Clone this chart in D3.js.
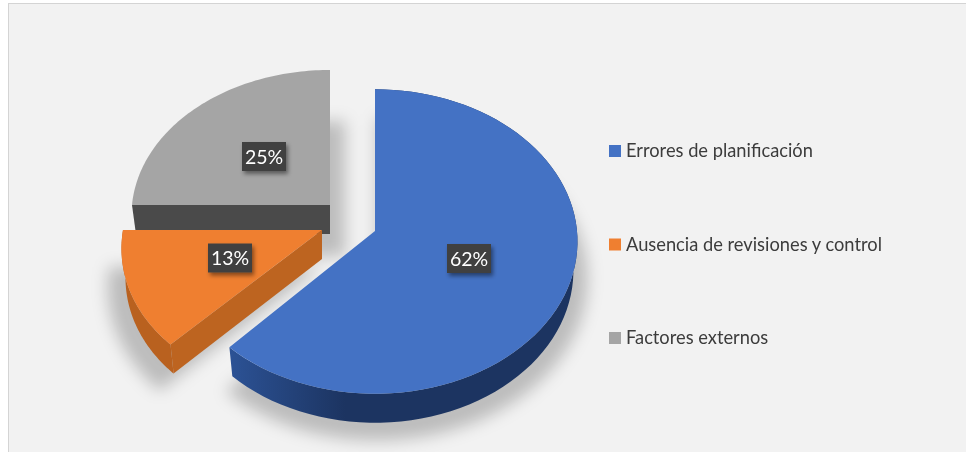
<!DOCTYPE html>
<html>
<head>
<meta charset="utf-8">
<script src="https://cdn.jsdelivr.net/npm/d3@7"></script>
<style>
  html, body { margin: 0; padding: 0; background: #fff; }
  svg { display: block; }
  text { font-family: Lato, "Open Sans", sans-serif; }
</style>
</head>
<body>
<svg id="chart" width="966" height="452"></svg>
<script>
const categories = ["Errores de planificación", "Ausencia de revisiones y control", "Factores externos"];
const shares = [62, 13, 25];
const topColors = ["#4472c4", "#ef7f30", "#a5a5a5"];
const sideColors = ["#1c3461", "#b9611f", "#4a4a4a"];

const svg = d3.select("#chart");
const W = 966, H = 452;
const defs = svg.append("defs");

defs.append("filter").attr("id", "soft").attr("x", "-20%").attr("y", "-20%").attr("width", "140%").attr("height", "140%")
  .append("feGaussianBlur").attr("stdDeviation", 8);
defs.append("filter").attr("id", "labelShadow").attr("x", "-30%").attr("y", "-30%").attr("width", "170%").attr("height", "170%")
  .append("feDropShadow").attr("dx", 2).attr("dy", 3).attr("stdDeviation", 2).attr("flood-color", "#000").attr("flood-opacity", 0.45);

const sideGrad = defs.append("linearGradient").attr("id", "blueSide")
  .attr("gradientUnits", "userSpaceOnUse").attr("x1", 230).attr("x2", 345).attr("y1", 0).attr("y2", 0);
sideGrad.append("stop").attr("offset", 0).attr("stop-color", "#2c5295");
sideGrad.append("stop").attr("offset", 1).attr("stop-color", "#1c3461");

// chart panel
svg.append("rect").attr("x", 8.5).attr("y", 3.5).attr("width", W).attr("height", H)
  .attr("fill", "#f2f2f2").attr("stroke", "#d4d4d4");

const DEPTH = 29;
// each slice has its own pull-out position, radius, tilt and lean on the chart floor
const anchors = [
  { x: 375, y: 231, r: 202, tilt: 0.75, lean: 0 },
  { x: 322, y: 230, r: 199, tilt: 0.75, lean: -11 },
  { x: 330, y: 205, r: 198, tilt: 0.729, lean: 0 }
];

const pie = d3.pie().sort(null)(shares);
const perspective = 0.069;

// projects an angle (clockwise from north) on a tilted, slightly foreshortened disc
function project(a, angle, drop) {
  const u = Math.sin(angle), v = -Math.cos(angle);
  const w = 1 / (1 - perspective * v);
  return [
    a.x + (u * a.r * w + a.lean * Math.max(v, 0)) * (drop ? 0.98 : 1),
    a.y + v * a.r * a.tilt * w + (drop ? DEPTH : 0)
  ];
}
const arcPoints = (a, s, drop) => d3.range(0, 81).map(i => {
  const t = s.startAngle + (s.endAngle - s.startAngle) * i / 80;
  return project(a, t, drop);
});
const closed = pts => d3.line()(pts) + "Z";

const slices = pie.map((s, i) => ({ s, i, a: anchors[i] }));
const drawOrder = [2, 1, 0];

// soft floor shadows underneath the extruded slices
const shadowShift = [{ dx: 2, dy: 8, k: 1.06 }, { dx: -2, dy: 8, k: 1.08 }, { dx: 15, dy: 22, k: 1 }];
const shadows = svg.append("g").attr("filter", "url(#soft)").attr("fill", "#000").attr("fill-opacity", 0.22);
drawOrder.forEach(i => {
  const { s, a } = slices[i];
  const pts = [[a.x, a.y + DEPTH], ...arcPoints(a, s, true)];
  const m = shadowShift[i];
  shadows.append("path").attr("d", closed(pts))
    .attr("transform", `translate(${a.x + m.dx},${a.y + DEPTH + m.dy}) scale(${m.k}) translate(${-a.x},${-a.y - DEPTH})`);
});

drawOrder.forEach(i => {
  const { s, a } = slices[i];
  const g = svg.append("g").attr("class", "slice");
  const top = arcPoints(a, s, false), low = arcPoints(a, s, true);
  const tipTop = [a.x, a.y], tipLow = [a.x, a.y + DEPTH];

  if (i === 2) {
    // the straight cut along the gray slice's start faces the viewer
    g.append("path").attr("d", closed([tipTop, tipLow, low[0], top[0]])).attr("fill", sideColors[2]);
  }
  if (i === 1) {
    g.append("path").attr("d", closed([...top, ...low.slice().reverse()])).attr("fill", sideColors[1]);
    g.append("path").attr("d", closed([tipTop, tipLow, low[0], top[0]])).attr("fill", "#bd6420");
  }
  if (i === 0) {
    g.append("path").attr("d", closed([...top, ...low.slice().reverse()])).attr("fill", "url(#blueSide)");
  }
  g.append("path").attr("d", closed([tipTop, ...top])).attr("fill", topColors[i]);
});

// percentage labels
const labelAt = [{ x: 469, y: 258.5 }, { x: 230, y: 258 }, { x: 264, y: 156.5 }];
const labels = svg.append("g").selectAll("g").data(shares).join("g")
  .attr("transform", (d, i) => `translate(${labelAt[i].x},${labelAt[i].y})`);
labels.append("rect").attr("x", -22).attr("y", -14.5).attr("width", 44).attr("height", 29)
  .attr("fill", "#404040").attr("filter", "url(#labelShadow)");
labels.append("text").attr("text-anchor", "middle").attr("dy", "0.36em")
  .attr("font-size", 19.5).attr("fill", "#fff").text(d => d + "%");

// legend
const legendY = d3.scalePoint().domain(categories).range([151, 338]);
const legend = svg.append("g").selectAll("g").data(categories).join("g")
  .attr("transform", d => `translate(609,${legendY(d)})`);
legend.append("rect").attr("y", -6).attr("width", 12).attr("height", 12)
  .attr("fill", (d, i) => topColors[i]);
legend.append("text").attr("x", 17).attr("dy", "0.35em")
  .attr("font-size", 18.3).attr("fill", "#3c3c3c").text(d => d);
</script>
</body>
</html>
